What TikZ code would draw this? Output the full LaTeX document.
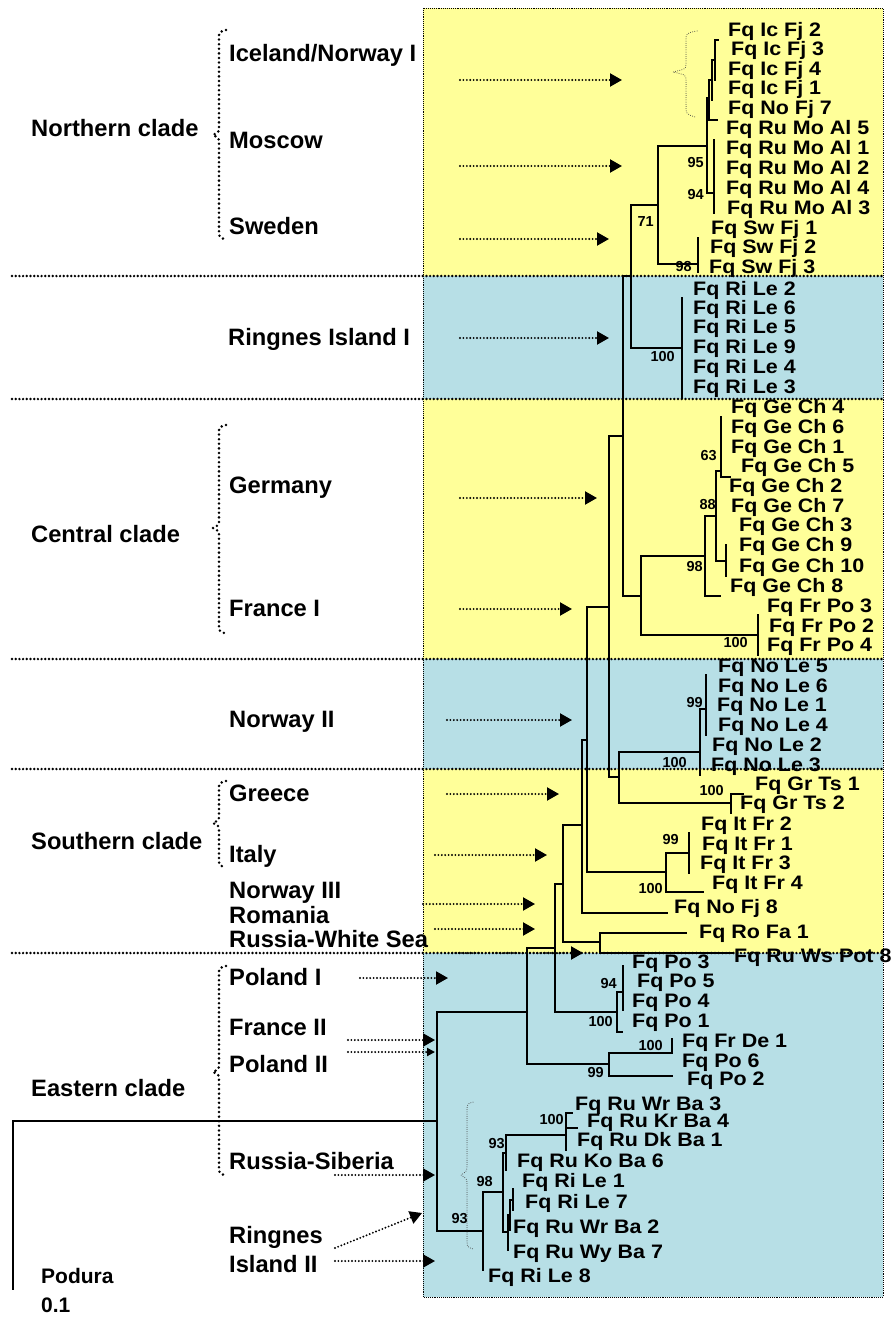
\documentclass[tikz,border=0pt]{standalone}
\usepackage{fontspec}
\setmainfont{Liberation Sans}
\newfontfamily\tipfont{Liberation Sans}[FakeStretch=1.1]
\usetikzlibrary{arrows.meta}
\definecolor{paleyellow}{HTML}{FFFF99}
\definecolor{paleblue}{HTML}{B7DFE6}

\tikzset{
  branch/.style={line width=1.8pt, line cap=rect},
  sepline/.style={line width=2.7pt, dash pattern=on 0pt off 3.7pt, line cap=round},
  boxline/.style={line width=0.8pt, dash pattern=on 0.8pt off 1.1pt},
  pointer/.style={line width=2.1pt, dash pattern=on 0pt off 3.4pt, line cap=round,
    -{Triangle[length=12pt,width=13pt]}},
  smallpointer/.style={line width=2.1pt, dash pattern=on 0pt off 3.4pt, line cap=round,
    -{Triangle[length=8pt,width=8pt]}},
  bracedots/.style={line width=2.8pt, dash pattern=on 0pt off 4.6pt, line cap=round},
  thinbrace/.style={line width=1pt, black!75, dash pattern=on 0pt off 2.2pt, line cap=round},
  tip/.style={anchor=base west, inner sep=0pt, font=\tipfont\bfseries\fontsize{19.5}{20}\selectfont},
  supp/.style={anchor=base east, inner sep=0pt, font=\bfseries\fontsize{14.5}{15}\selectfont},
  region/.style={anchor=base west, inner sep=0pt, font=\bfseries\fontsize{23.7}{24}\selectfont},
  small/.style={anchor=base west, inner sep=0pt, font=\bfseries\fontsize{21}{21}\selectfont},
}

% dotted pointer from a region label towards the tree: [style]{name}{from}{to}
\newcommand\drawpointer[4][pointer]{%
  \coordinate (#2-from) at (#3);
  \coordinate (#2-to) at (#4);
  \draw[#1] (#2-from) -- (#2-to);}

% dotted curly brace grouping regional labels: top, tip, bottom
\newcommand\cladebrace[3]{%
  \draw[bracedots] (226,#1) .. controls (219,#1+2) .. (219,#1+9) -- (219,#2-8)
    .. controls (219,#2-3) .. (213,#2) .. controls (219,#2+3) .. (219,#2+8)
    -- (219,#3-9) .. controls (219,#3-2) .. (224,#3);}

\begin{document}
\begin{tikzpicture}[x=1pt,y=-1pt]
\useasboundingbox (0,0) rectangle (896,1322);

% coloured bands behind the tree
\fill[paleyellow] (423,8) rectangle (883,276);
\fill[paleblue]   (423,276) rectangle (883,399);
\fill[paleyellow] (423,399) rectangle (883,659);
\fill[paleblue]   (423,659) rectangle (883,769);
\fill[paleyellow] (423,769) rectangle (883,953);
\fill[paleblue]   (423,953) rectangle (883,1297);
\draw[boxline] (423,8) rectangle (883,1297);
\foreach \y in {276,399,659,769,953} \draw[sepline] (12,\y) -- (883,\y);

% ---------- tree: internal nodes ----------
\coordinate (R)   at (13,1121);
\coordinate (Pod) at (13,1289);
\coordinate (I)   at (437,1121);
\coordinate (E)   at (483,1231);
\coordinate (E1)  at (503,1192);
\coordinate (E2)  at (506,1153);
\coordinate (E4)  at (566,1135);
\coordinate (E3)  at (508,1232);
\coordinate (E6)  at (510,1215);
\coordinate (E7)  at (513,1200);
\coordinate (A)   at (527,1012);
\coordinate (FP)  at (609,1064);
\coordinate (FD)  at (672,1053);
\coordinate (B)   at (555,948);
\coordinate (PL)  at (617,1012);
\coordinate (PL2) at (623,992);
\coordinate (C)   at (563,884);
\coordinate (RW)  at (600,942);
\coordinate (D)   at (582,825);
\coordinate (F)   at (587,740);
\coordinate (It)  at (666,872);
\coordinate (It2) at (689,853);
\coordinate (G)   at (609,607);
\coordinate (NG)  at (619,777);
\coordinate (GR)  at (731,803);
\coordinate (NO)  at (700,752);
\coordinate (NO1) at (706,709);
\coordinate (H)   at (623,436);
\coordinate (CE)  at (641,596);
\coordinate (FR)  at (758,635);
\coordinate (GE)  at (705,556);
\coordinate (GE1) at (716,516);
\coordinate (GE2) at (721,471);
\coordinate (GE3) at (726,561);
\coordinate (NR)  at (631,276);
\coordinate (RI)  at (682,348);
\coordinate (NN)  at (658,205);
\coordinate (SW)  at (698,264);
\coordinate (IM)  at (707,146);
\coordinate (IC)  at (709,98);
\coordinate (IC1) at (712,80);
\coordinate (IC2) at (715,60);
\coordinate (MO)  at (714,193);

% ---------- tree: branch ends of tips ----------
\coordinate (eIc2)   at (718,40);
\coordinate (eIc4)   at (715,80);
\coordinate (eIc1)   at (712,100);
\coordinate (eNoFj7) at (717,120);
\coordinate (eMo5)   at (714,140);
\coordinate (eMo3)   at (714,213);
\coordinate (eSw1)   at (698,238);
\coordinate (eSw3)   at (698,272);
\coordinate (eRi2)   at (682,298);
\coordinate (eRi3)   at (682,398);
\coordinate (eGe4)   at (721,417);
\coordinate (eGe2)   at (730,477);
\coordinate (eGe9)   at (726,545);
\coordinate (eGe10)  at (726,576);
\coordinate (eGe8)   at (720,596);
\coordinate (eFr3)   at (758,615);
\coordinate (eFr4)   at (758,655);
\coordinate (eNo5)   at (706,675);
\coordinate (eNo4)   at (706,735);
\coordinate (eNo3)   at (700,775);
\coordinate (eGr1)   at (743,794);
\coordinate (eGr2)   at (731,813);
\coordinate (eIt2)   at (689,833);
\coordinate (eIt3)   at (689,873);
\coordinate (eIt4)   at (703,892);
\coordinate (eNoFj8) at (667,913);
\coordinate (eRo)    at (686,933);
\coordinate (eWs)    at (733,953);
\coordinate (ePo3)   at (623,966);
\coordinate (ePo4)   at (623,1010);
\coordinate (ePo1)   at (622,1032);
\coordinate (eFrDe)  at (672,1039);
\coordinate (ePo2)   at (672,1076);
\coordinate (eWrBa3) at (572,1113);
\coordinate (eKrBa4) at (577,1128);
\coordinate (eDkBa1) at (566,1150);
\coordinate (eKoBa6) at (506,1170);
\coordinate (eRiLe1) at (513,1189);
\coordinate (eRiLe7) at (513,1210);
\coordinate (eWrBa2) at (510,1230);
\coordinate (eWyBa7) at (508,1250);
\coordinate (eRiLe8) at (483,1270);

% ---------- tree: branches ----------
\draw[branch] (R) -- (Pod);
\draw[branch] (R) |- (I);
\draw[branch] (I) |- (A);
\draw[branch] (I) |- (E);
\draw[branch] (E) |- (E1);
\draw[branch] (E) |- (eRiLe8);
\draw[branch] (E1) |- (E2);
\draw[branch] (E1) |- (E3);
\draw[branch] (E2) |- (E4);
\draw[branch] (E2) |- (eKoBa6);
\draw[branch] (E4) |- (eWrBa3);
\draw[branch] (E4) |- (eKrBa4);
\draw[branch] (E4) |- (eDkBa1);
\draw[branch] (E3) |- (E6);
\draw[branch] (E3) |- (eWyBa7);
\draw[branch] (E6) |- (E7);
\draw[branch] (E6) |- (eWrBa2);
\draw[branch] (E7) |- (eRiLe1);
\draw[branch] (E7) |- (eRiLe7);
\draw[branch] (A) |- (B);
\draw[branch] (A) |- (FP);
\draw[branch] (FP) |- (FD);
\draw[branch] (FP) |- (ePo2);
\draw[branch] (FD) |- (eFrDe);
\draw[branch] (B) |- (C);
\draw[branch] (B) |- (PL);
\draw[branch] (PL) |- (PL2);
\draw[branch] (PL) |- (ePo1);
\draw[branch] (PL2) |- (ePo3);
\draw[branch] (PL2) |- (ePo4);
\draw[branch] (C) |- (D);
\draw[branch] (C) |- (RW);
\draw[branch] (RW) |- (eRo);
\draw[branch] (RW) |- (eWs);
\draw[branch] (D) |- (F);
\draw[branch] (D) |- (eNoFj8);
\draw[branch] (F) |- (G);
\draw[branch] (F) |- (It);
\draw[branch] (It) |- (It2);
\draw[branch] (It) |- (eIt4);
\draw[branch] (It2) |- (eIt2);
\draw[branch] (It2) |- (eIt3);
\draw[branch] (G) |- (H);
\draw[branch] (G) |- (NG);
\draw[branch] (NG) |- (NO);
\draw[branch] (NG) |- (GR);
\draw[branch] (GR) |- (eGr1);
\draw[branch] (GR) |- (eGr2);
\draw[branch] (NO) |- (NO1);
\draw[branch] (NO) |- (eNo3);
\draw[branch] (NO1) |- (eNo5);
\draw[branch] (NO1) |- (eNo4);
\draw[branch] (H) |- (NR);
\draw[branch] (H) |- (CE);
\draw[branch] (CE) |- (GE);
\draw[branch] (CE) |- (FR);
\draw[branch] (FR) |- (eFr3);
\draw[branch] (FR) |- (eFr4);
\draw[branch] (GE) |- (GE1);
\draw[branch] (GE) |- (eGe8);
\draw[branch] (GE1) |- (GE2);
\draw[branch] (GE1) |- (GE3);
\draw[branch] (GE2) |- (eGe4);
\draw[branch] (GE2) |- (eGe2);
\draw[branch] (GE3) |- (eGe9);
\draw[branch] (GE3) |- (eGe10);
\draw[branch] (NR) |- (NN);
\draw[branch] (NR) |- (RI);
\draw[branch] (RI) |- (eRi2);
\draw[branch] (RI) |- (eRi3);
\draw[branch] (NN) |- (IM);
\draw[branch] (NN) |- (SW);
\draw[branch] (SW) |- (eSw1);
\draw[branch] (SW) |- (eSw3);
\draw[branch] (IM) |- (IC);
\draw[branch] (IM) |- (MO);
\draw[branch] (MO) |- (eMo5);
\draw[branch] (MO) |- (eMo3);
\draw[branch] (IC) |- (IC1);
\draw[branch] (IC) |- (eNoFj7);
\draw[branch] (IC1) |- (IC2);
\draw[branch] (IC1) |- (eIc1);
\draw[branch] (IC2) |- (eIc2);
\draw[branch] (IC2) |- (eIc4);

% ---------- support values ----------
\node[supp] (s95)   at (704,167)  {95};
\node[supp] (s94a)  at (704,199)  {94};
\node[supp] (s71)   at (654,226)  {71};
\node[supp] (s98a)  at (692,271)  {98};
\node[supp] (s100a) at (675,361)  {100};
\node[supp] (s63)   at (717,460)  {63};
\node[supp] (s88)   at (716,509)  {88};
\node[supp] (s98b)  at (703,571)  {98};
\node[supp] (s100b) at (748,647)  {100};
\node[supp] (s99a)  at (703,707)  {99};
\node[supp] (s100c) at (687,767)  {100};
\node[supp] (s100d) at (724,795)  {100};
\node[supp] (s99b)  at (679,844)  {99};
\node[supp] (s100e) at (663,893)  {100};
\node[supp] (s94b)  at (617,988)  {94};
\node[supp] (s100f) at (613,1026) {100};
\node[supp] (s100g) at (663,1050) {100};
\node[supp] (s99c)  at (604,1077) {99};
\node[supp] (s100h) at (564,1124) {100};
\node[supp] (s93a)  at (505,1148) {93};
\node[supp] (s98c)  at (493,1186) {98};
\node[supp] (s93b)  at (468,1223) {93};

% ---------- tip labels ----------
\node[tip] (tIc2)   at (728,37)   {Fq Ic Fj 2};
\node[tip] (tIc3)   at (731,56)   {Fq Ic Fj 3};
\node[tip] (tIc4)   at (728,75)   {Fq Ic Fj 4};
\node[tip] (tIc1)   at (728,94)   {Fq Ic Fj 1};
\node[tip] (tNoFj7) at (728,114)  {Fq No Fj 7};
\node[tip] (tMo5)   at (726,134)  {Fq Ru Mo Al 5};
\node[tip] (tMo1)   at (726,154)  {Fq Ru Mo Al 1};
\node[tip] (tMo2)   at (726,174)  {Fq Ru Mo Al 2};
\node[tip] (tMo4)   at (726,194)  {Fq Ru Mo Al 4};
\node[tip] (tMo3)   at (727,214)  {Fq Ru Mo Al 3};
\node[tip] (tSw1)   at (711,234)  {Fq Sw Fj 1};
\node[tip] (tSw2)   at (710,253)  {Fq Sw Fj 2};
\node[tip] (tSw3)   at (709,273)  {Fq Sw Fj 3};
\node[tip] (tRi2)   at (693,295)  {Fq Ri Le 2};
\node[tip] (tRi6)   at (693,314)  {Fq Ri Le 6};
\node[tip] (tRi5)   at (693,333)  {Fq Ri Le 5};
\node[tip] (tRi9)   at (693,353)  {Fq Ri Le 9};
\node[tip] (tRi4)   at (693,373)  {Fq Ri Le 4};
\node[tip] (tRi3)   at (693,393)  {Fq Ri Le 3};
\node[tip] (tGe4)   at (731,413)  {Fq Ge Ch 4};
\node[tip] (tGe6)   at (731,433)  {Fq Ge Ch 6};
\node[tip] (tGe1)   at (731,453)  {Fq Ge Ch 1};
\node[tip] (tGe5)   at (741,472)  {Fq Ge Ch 5};
\node[tip] (tGe2)   at (729,492)  {Fq Ge Ch 2};
\node[tip] (tGe7)   at (731,512)  {Fq Ge Ch 7};
\node[tip] (tGe3)   at (739,531)  {Fq Ge Ch 3};
\node[tip] (tGe9)   at (739,551)  {Fq Ge Ch 9};
\node[tip] (tGe10)  at (739,572)  {Fq Ge Ch 10};
\node[tip] (tGe8)   at (730,592)  {Fq Ge Ch 8};
\node[tip] (tFr3)   at (767,612)  {Fq Fr Po 3};
\node[tip] (tFr2)   at (769,632)  {Fq Fr Po 2};
\node[tip] (tFr4)   at (767,651)  {Fq Fr Po 4};
\node[tip] (tNo5)   at (718,672)  {Fq No Le 5};
\node[tip] (tNo6)   at (718,692)  {Fq No Le 6};
\node[tip] (tNo1)   at (717,711)  {Fq No Le 1};
\node[tip] (tNo4)   at (718,731)  {Fq No Le 4};
\node[tip] (tNo2)   at (712,751)  {Fq No Le 2};
\node[tip] (tNo3)   at (711,771)  {Fq No Le 3};
\node[tip] (tGr1)   at (755,790)  {Fq Gr Ts 1};
\node[tip] (tGr2)   at (740,809)  {Fq Gr Ts 2};
\node[tip] (tIt2)   at (701,830)  {Fq It Fr 2};
\node[tip] (tIt1)   at (702,850)  {Fq It Fr 1};
\node[tip] (tIt3)   at (700,869)  {Fq It Fr 3};
\node[tip] (tIt4)   at (712,889)  {Fq It Fr 4};
\node[tip] (tNoFj8) at (674,913)  {Fq No Fj 8};
\node[tip] (tRo)    at (699,938)  {Fq Ro Fa 1};
\node[tip] (tWs)    at (734,962)  {Fq Ru Ws Pot 8};
\node[tip] (tPo3)   at (632,968)  {Fq Po 3};
\node[tip] (tPo5)   at (637,987)  {Fq Po 5};
\node[tip] (tPo4)   at (632,1007) {Fq Po 4};
\node[tip] (tPo1)   at (632,1027) {Fq Po 1};
\node[tip] (tFrDe)  at (682,1047) {Fq Fr De 1};
\node[tip] (tPo6)   at (682,1067) {Fq Po 6};
\node[tip] (tPo2)   at (687,1085) {Fq Po 2};
\node[tip] (tWrBa3) at (575,1110) {Fq Ru Wr Ba 3};
\node[tip] (tKrBa4) at (587,1127) {Fq Ru Kr Ba 4};
\node[tip] (tDkBa1) at (577,1146) {Fq Ru Dk Ba 1};
\node[tip] (tKoBa6) at (517,1167) {Fq Ru Ko Ba 6};
\node[tip] (tRiLe1) at (522,1187) {Fq Ri Le 1};
\node[tip] (tRiLe7) at (525,1208) {Fq Ri Le 7};
\node[tip] (tWrBa2) at (513,1233) {Fq Ru Wr Ba 2};
\node[tip] (tWyBa7) at (513,1258) {Fq Ru Wy Ba 7};
\node[tip] (tRiLe8) at (488,1282) {Fq Ri Le 8};

% ---------- regional labels ----------
\node[region] (lNorth) at (31,136)  {Northern clade};
\node[region] (lCent)  at (31,542)  {Central clade};
\node[region] (lSouth) at (31,849)  {Southern clade};
\node[region] (lEast)  at (31,1096) {Eastern clade};
\node[region] (lIce)   at (229,62)   {Iceland/Norway I};
\node[region] (lMos)   at (229,148)  {Moscow};
\node[region] (lSwe)   at (229,234)  {Sweden};
\node[region] (lRing1) at (228,345)  {Ringnes Island I};
\node[region] (lGer)   at (229,493)  {Germany};
\node[region] (lFra1)  at (229,616)  {France I};
\node[region] (lNor2)  at (229,727)  {Norway II};
\node[region] (lGre)   at (229,801)  {Greece};
\node[region] (lIta)   at (229,862)  {Italy};
\node[region] (lNor3)  at (229,898)  {Norway III};
\node[region] (lRom)   at (229,923)  {Romania};
\node[region] (lWS)    at (229,947)  {Russia-White Sea};
\node[region] (lPol1)  at (229,985)  {Poland I};
\node[region] (lFra2)  at (229,1035) {France II};
\node[region] (lPol2)  at (229,1072) {Poland II};
\node[region] (lSib)   at (229,1169) {Russia-Siberia};
\node[region] (lRing2) at (229,1243) {Ringnes};
\node[region] (lIsl2)  at (229,1272) {Island II};
\node[small]  (lPod)   at (41,1283)  {Podura};
\node[small]  (lScale) at (41,1312)  {0.1};

% ---------- braces ----------
\cladebrace{30}{135}{239}
\cladebrace{425}{528}{633}
\cladebrace{781}{823}{867}
\cladebrace{966}{1072}{1175}
\draw[thinbrace] (697,31) .. controls (686,33) .. (686,42) -- (686,64)
  .. controls (686,69) .. (673,72) .. controls (686,75) .. (686,80)
  -- (686,106) .. controls (686,114) .. (695,117);
\draw[thinbrace] (473,1102) .. controls (467,1104) .. (467,1112) -- (467,1165)
  .. controls (467,1171) .. (461,1175) .. controls (467,1179) .. (467,1185)
  -- (467,1240) .. controls (467,1247) .. (473,1249);

% ---------- pointers ----------
\drawpointer{pIce}{460,80}{622,80}
\drawpointer{pMos}{460,166}{622,166}
\drawpointer{pSwe}{460,239}{609,239}
\drawpointer{pRi1}{460,338}{609,338}
\drawpointer{pGer}{460,498}{597,498}
\drawpointer{pFr1}{460,609}{572,609}
\drawpointer{pNo2}{447,720}{572,720}
\drawpointer{pGre}{447,794}{559,794}
\drawpointer{pIta}{435,855}{547,855}
\drawpointer{pNo3}{423,904}{535,904}
\drawpointer{pRom}{435,929}{535,929}
\drawpointer{pWS}{445,953}{583,953}
\drawpointer{pPo1}{360,978}{448,978}
\drawpointer{pFr2}{348,1040}{435,1040}
\drawpointer[smallpointer]{pPo2}{348,1052}{435,1052}
\drawpointer{pSib}{335,1175}{435,1175}
\drawpointer{pRg2}{335,1248}{422,1213}
\drawpointer{pIs2}{335,1261}{435,1261}
\end{tikzpicture}
\end{document}
